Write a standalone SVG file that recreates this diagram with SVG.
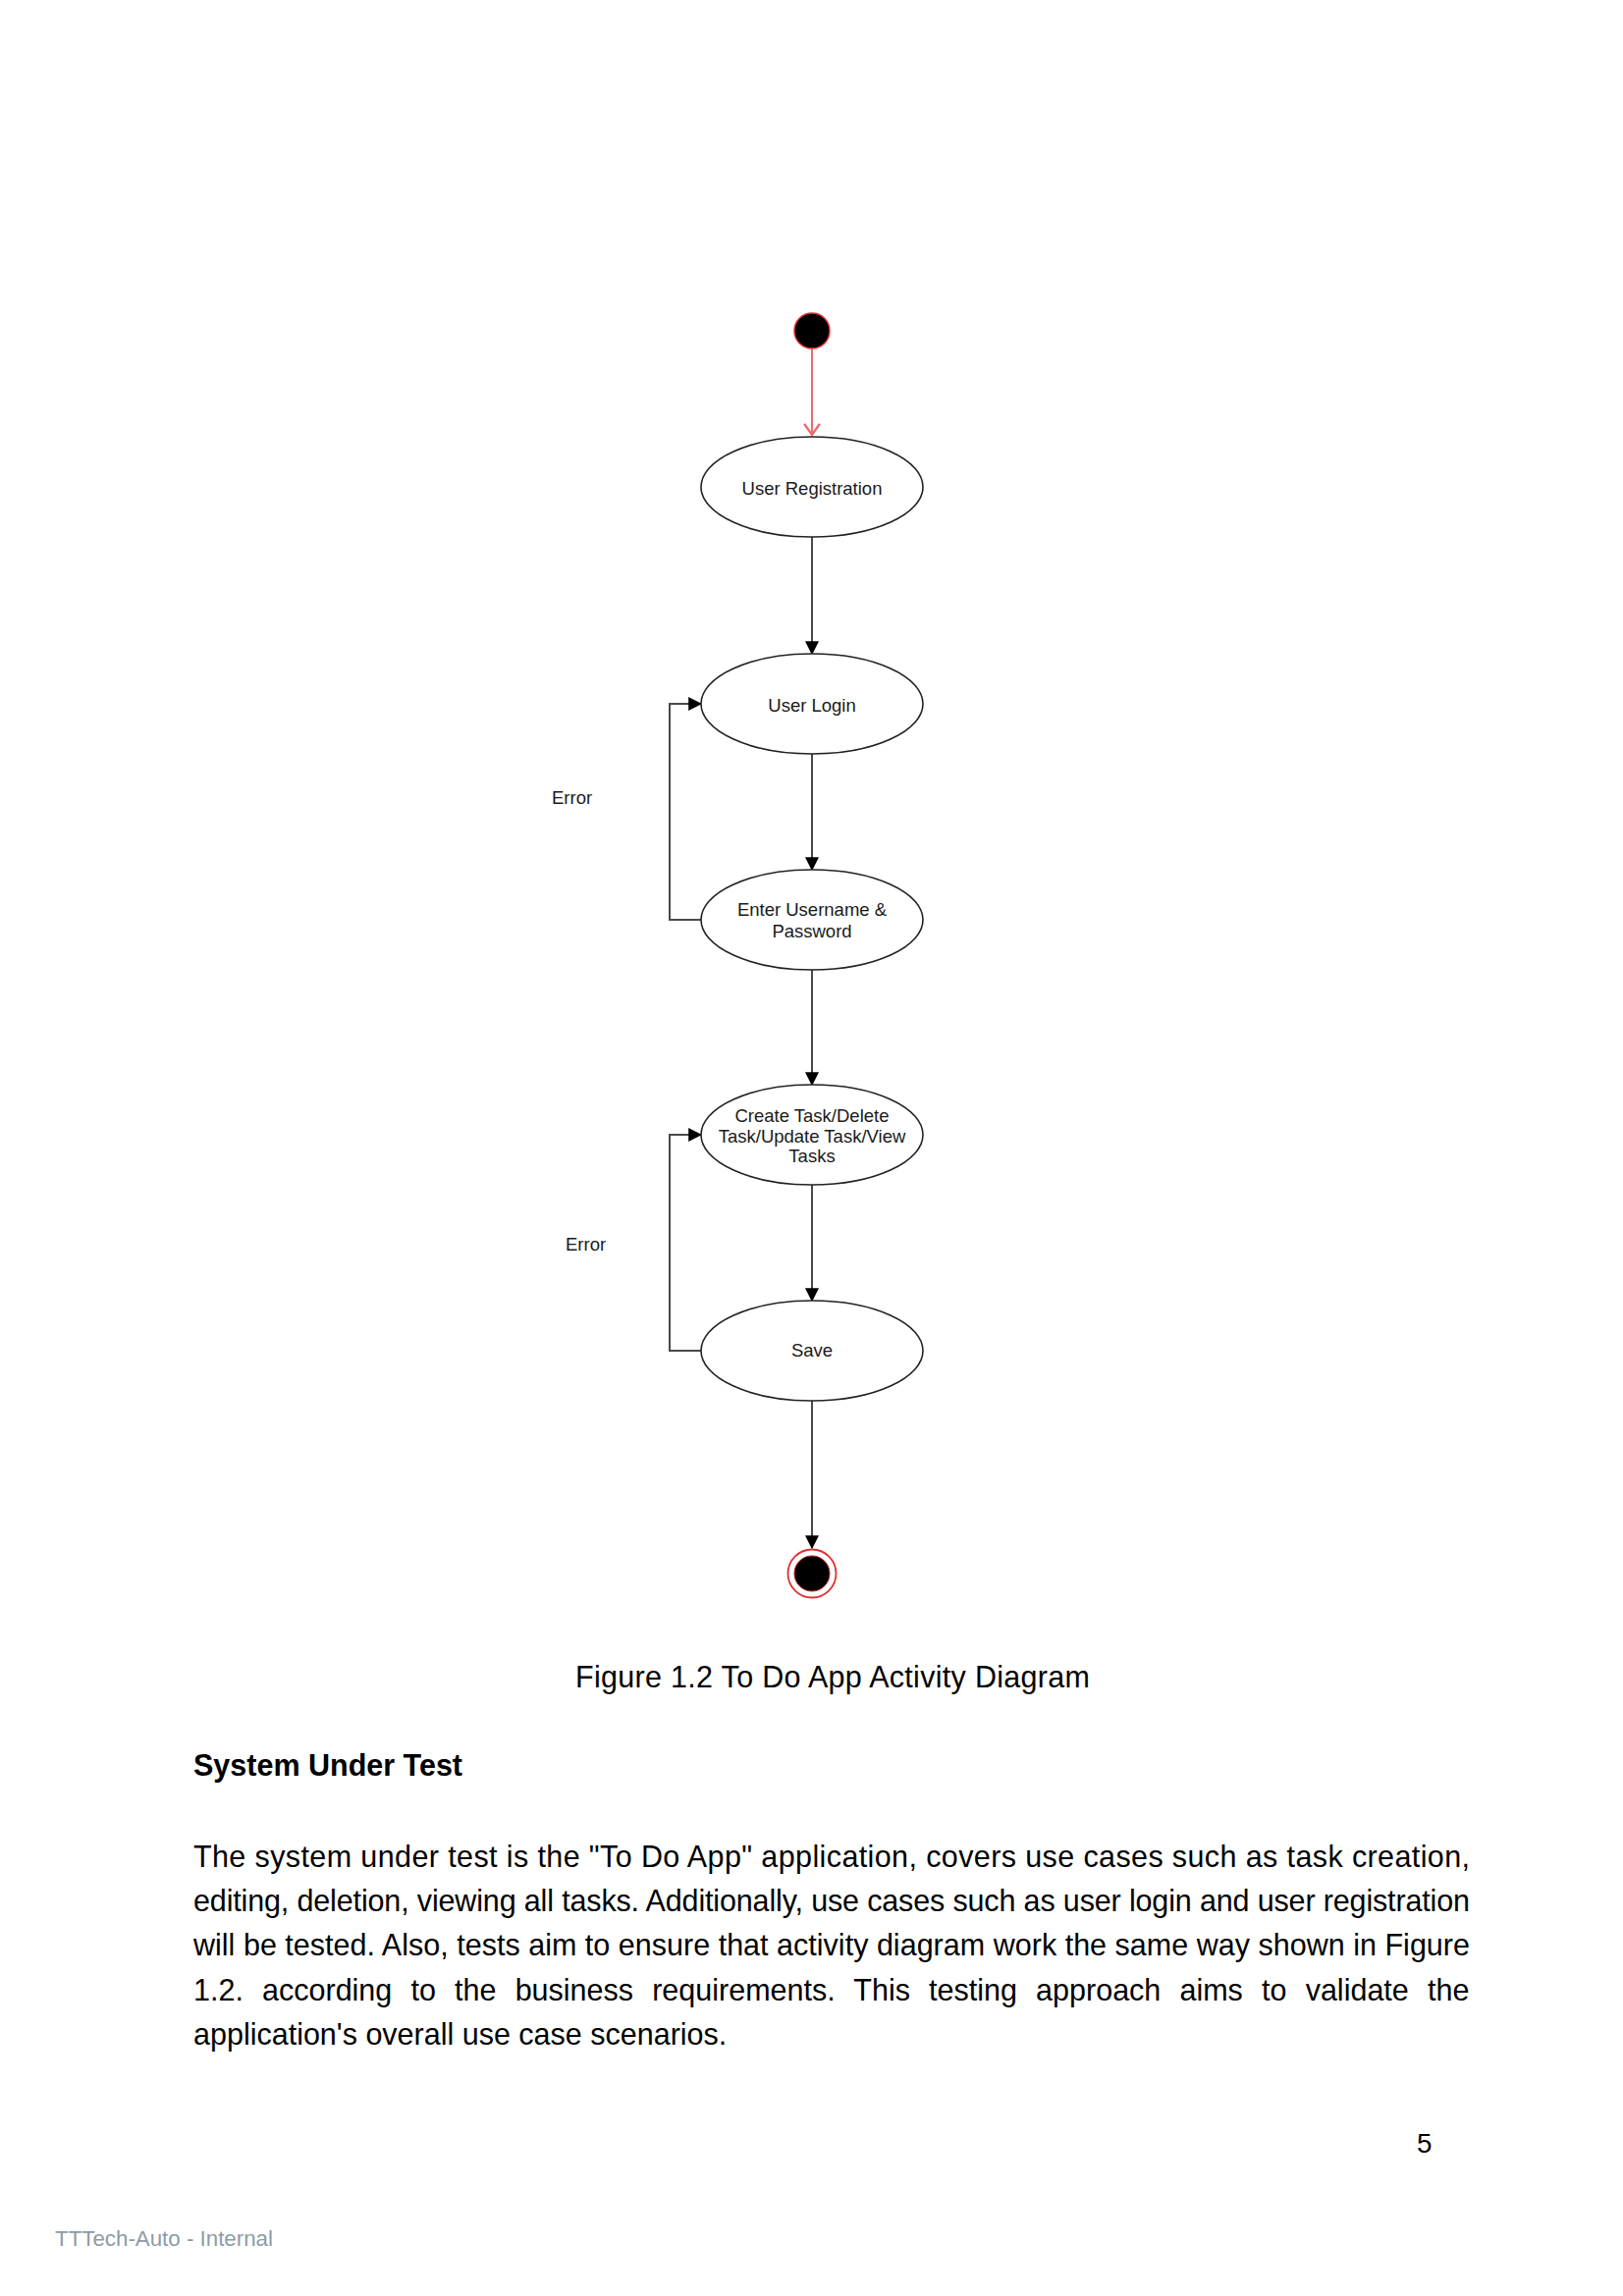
<svg xmlns="http://www.w3.org/2000/svg" width="1653" height="2339" viewBox="0 0 1653 2339">
<style>
.node{fill:#ffffff;stroke:#222222;stroke-width:1.6}
.lbl{font-family:"Liberation Sans",Arial,sans-serif;font-size:18.5px;fill:#1a1a1a;text-anchor:middle}
.err{font-family:"Liberation Sans",Arial,sans-serif;font-size:18.5px;fill:#1a1a1a}
.conn{fill:none;stroke:#4a4a4a;stroke-width:2}
.body{font-family:"Liberation Sans",Arial,sans-serif;font-size:30.5px;fill:#000000}
</style>
<defs>
<marker id="arr" markerUnits="userSpaceOnUse" markerWidth="14" markerHeight="14" viewBox="0 0 12 12" refX="11" refY="6" orient="auto">
<path d="M0,0 L12,6 L0,12 Z" fill="#000000"/>
</marker>
<marker id="open" markerUnits="userSpaceOnUse" markerWidth="18" markerHeight="18" viewBox="0 0 16 16" refX="14" refY="8" orient="auto">
<path d="M4,1 L14,8 L4,15" fill="none" stroke="#ea6b6b" stroke-width="2"/>
</marker>
</defs>
<rect width="1653" height="2339" fill="#ffffff"/>

<g id="connectors">
<line x1="827" y1="356" x2="827" y2="443" stroke="#ea6b6b" stroke-width="2" marker-end="url(#open)"/>
<line class="conn" x1="827" y1="547" x2="827" y2="666" marker-end="url(#arr)"/>
<line class="conn" x1="827" y1="768" x2="827" y2="886" marker-end="url(#arr)"/>
<line class="conn" x1="827" y1="988" x2="827" y2="1105" marker-end="url(#arr)"/>
<line class="conn" x1="827" y1="1207" x2="827" y2="1325" marker-end="url(#arr)"/>
<line class="conn" x1="827" y1="1427" x2="827" y2="1577" marker-end="url(#arr)"/>
<path class="conn" d="M714,937 L682,937 L682,717 L714,717" marker-end="url(#arr)"/>
<path class="conn" d="M714,1376 L682,1376 L682,1156 L714,1156" marker-end="url(#arr)"/>
<text class="err" x="562" y="818.5">Error</text>
<text class="err" x="576" y="1273.5">Error</text>
</g>

<g id="start">
<circle cx="827" cy="337" r="18" fill="#000000" stroke="#e03030" stroke-width="1.5"/>
</g>
<g id="user-registration">
<ellipse class="node" cx="827" cy="496" rx="113" ry="51"/>
<text class="lbl" x="827" y="503.5">User Registration</text>
</g>
<g id="user-login">
<ellipse class="node" cx="827" cy="717" rx="113" ry="51"/>
<text class="lbl" x="827" y="724.5">User Login</text>
</g>
<g id="enter-credentials">
<ellipse class="node" cx="827" cy="937" rx="113" ry="51"/>
<text class="lbl" x="827" y="932.5">Enter Username &amp;</text>
<text class="lbl" x="827" y="954.5">Password</text>
</g>
<g id="tasks">
<ellipse class="node" cx="827" cy="1156" rx="113" ry="51"/>
<text class="lbl" x="827" y="1142.5">Create Task/Delete</text>
<text class="lbl" x="827" y="1163.5">Task/Update Task/View</text>
<text class="lbl" x="827" y="1183.5">Tasks</text>
</g>
<g id="save">
<ellipse class="node" cx="827" cy="1376" rx="113" ry="51"/>
<text class="lbl" x="827" y="1381.5">Save</text>
</g>
<g id="end">
<circle cx="827" cy="1603" r="24.5" fill="#ffffff" stroke="#e03030" stroke-width="1.8"/>
<circle cx="827" cy="1603" r="18" fill="#000000" stroke="#c02020" stroke-width="1"/>
</g>

<text class="body" x="586" y="1719" textLength="524" lengthAdjust="spacing">Figure 1.2 To Do App Activity Diagram</text>
<text class="body" x="197" y="1809" font-weight="bold">System Under Test</text>
<text class="body" x="197" y="1902" textLength="1300" lengthAdjust="spacing">The system under test is the "To Do App" application, covers use cases such as task creation,</text>
<text class="body" x="197" y="1947" textLength="1300" lengthAdjust="spacing">editing, deletion, viewing all tasks. Additionally, use cases such as user login and user registration</text>
<text class="body" x="197" y="1992" textLength="1300" lengthAdjust="spacing">will be tested. Also, tests aim to ensure that activity diagram work the same way shown in Figure</text>
<text class="body" x="197" y="2038" word-spacing="10.7">1.2. according to the business requirements. This testing approach aims to validate the</text>
<text class="body" x="197" y="2083">application's overall use case scenarios.</text>
<text x="1443" y="2193" font-family="Liberation Sans, Arial, sans-serif" font-size="27.8" fill="#000000">5</text>
<text x="56" y="2288" font-family="Liberation Sans, Arial, sans-serif" font-size="22.5" fill="#8c9ba6" textLength="222" lengthAdjust="spacingAndGlyphs">TTTech-Auto - Internal</text>
</svg>
